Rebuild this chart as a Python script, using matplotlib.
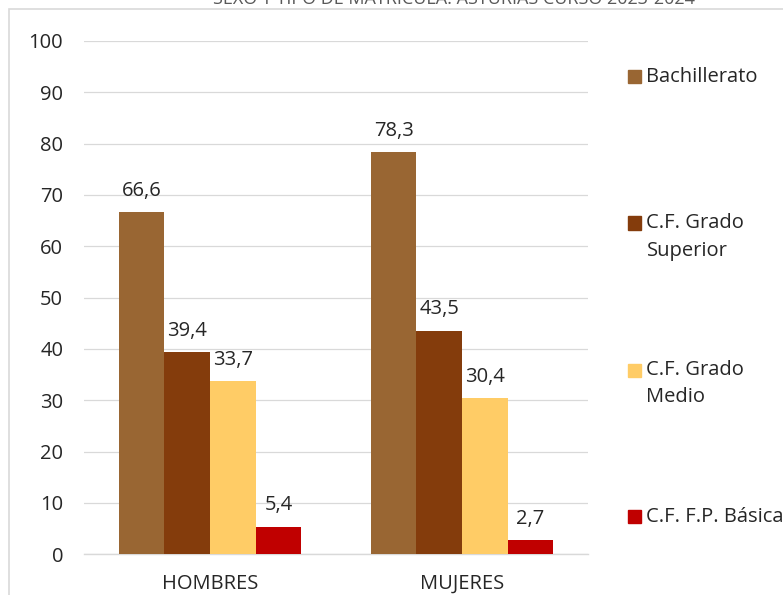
import matplotlib.pyplot as plt
from matplotlib.patches import Rectangle
import numpy as np

plt.rcParams['font.family'] = ['Open Sans', 'DejaVu Sans']

# Data
groups = ['HOMBRES', 'MUJERES']
series = ['Bachillerato', 'C.F. Grado\nSuperior', 'C.F. Grado\nMedio', 'C.F. F.P. Básica']
bachillerato = [66.6, 78.3]
grado_superior = [39.4, 43.5]
grado_medio = [33.7, 30.4]
fp_basica = [5.4, 2.7]
values = [bachillerato, grado_superior, grado_medio, fp_basica]
colors = ['#996633', '#843C0C', '#FFCC66', '#C00000']
title = 'SEXO Y TIPO DE MATRÍCULA. ASTURIAS CURSO 2023-2024'

W, H = 783, 595
fig = plt.figure(figsize=(W / 100, H / 100), dpi=100)
ax = fig.add_axes([84 / W, 1 - 554.3 / H, (588 - 84) / W, (554.3 - 41) / H])

txt = '#262626'
grid = '#D9D9D9'

x = np.arange(len(groups))
bw = 0.181
for i, (vals, col) in enumerate(zip(values, colors)):
    pos = x + (i - 1.5) * bw
    bars = ax.bar(pos, vals, width=bw, color=col, zorder=3)
    for b, v in zip(bars, vals):
        ax.annotate(f'{v:.1f}'.replace('.', ','),
                    (b.get_x() + b.get_width() / 2, v),
                    xytext=(0, 15.5), textcoords='offset points',
                    ha='center', va='center', fontsize=14.5, color=txt)

ax.set_xlim(-0.5, 1.5)
ax.set_ylim(0, 100)
ax.set_yticks(range(0, 101, 10))
ax.set_xticks(x)
ax.set_xticklabels(groups)
ax.grid(axis='y', color=grid, linewidth=0.9, zorder=0)
ax.tick_params(axis='both', length=0, labelsize=14.5, colors=txt)
ax.tick_params(axis='y', pad=15)
ax.tick_params(axis='x', pad=14)
for s in ['top', 'right', 'left']:
    ax.spines[s].set_visible(False)
ax.spines['bottom'].set_color(grid)
ax.spines['bottom'].set_linewidth(1.0)

# Manual legend (marker beside first line of each label)
leg_y = [76.7, 223, 370, 516.7]
line_gap = 27.5
for lab, col, yp in zip(series, colors, leg_y):
    fig.patches.append(Rectangle((627.5 / W, 1 - (yp + 6.5) / H), 13 / W, 13 / H,
                                 transform=fig.transFigure, color=col))
    for k, line in enumerate(lab.split('\n')):
        fig.text(646.5 / W, 1 - (yp + k * line_gap) / H, line, ha='left', va='center',
                 fontsize=14.5, color=txt)

# Chart border (cropped)
fig.patches.append(Rectangle((8.5 / W, -0.1), 1.2, 1 - 9.5 / H + 0.1,
                             transform=fig.transFigure, fill=False,
                             edgecolor=grid, linewidth=1.2))

# Title (cropped at top, as in the reference)
fig.text(454 / W, 1 - 4.5 / H, title, ha='center', va='baseline',
         fontsize=13, color='#595959')

fig.savefig('out.png', dpi=100)
